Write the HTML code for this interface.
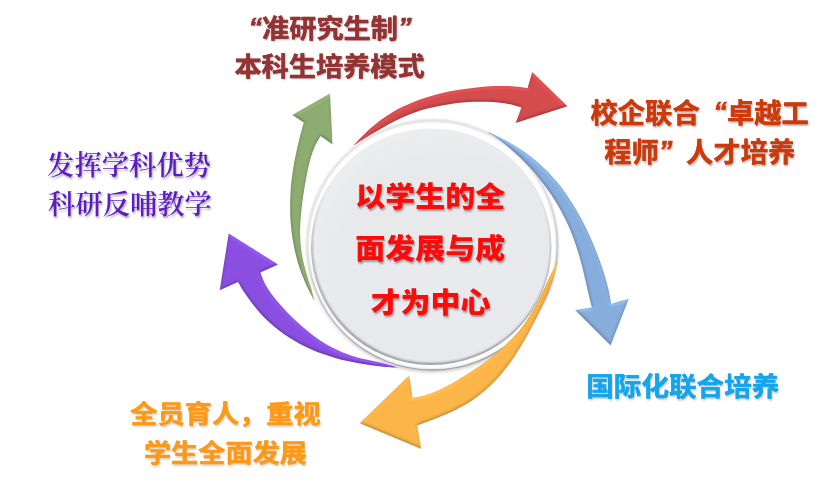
<!DOCTYPE html>
<html lang="zh-CN">
<head>
<meta charset="utf-8">
<title>以学生的全面发展与成才为中心</title>
<style>
html,body{margin:0;padding:0;background:#fff;}
body{width:824px;height:482px;position:relative;overflow:hidden;font-family:"Liberation Sans","Noto Sans CJK SC",sans-serif;}
#art{position:absolute;left:0;top:0;width:824px;height:482px;filter:blur(.45px);}
.t{filter:blur(.4px);position:absolute;white-space:nowrap;text-align:center;font-weight:700;line-height:1;transform:translateX(-50%) scaleY(.93);}
.c1{color:#943333;-webkit-text-stroke:.35px #943333;font-size:27.2px;transform:translateX(-50%) scaleY(.97);text-shadow:0 0 .7px #943333,1px 1.5px 2px rgba(70,50,50,.33);}
.c2{color:#cc3a0c;-webkit-text-stroke:.35px #cc3a0c;font-size:27.3px;transform:translateX(-50%);text-shadow:0 0 .7px #cc3a0c,1px 1.5px 2px rgba(70,50,50,.33);}
.c3{color:#5c1cc2;font-size:27.3px;font-family:"Liberation Serif","Noto Serif CJK SC",serif;font-weight:600;text-shadow:1px 1.5px 2px rgba(60,50,70,.4);transform:translateX(-50%);}
.c4{color:#14a5eb;-webkit-text-stroke:.35px #14a5eb;font-size:27.6px;text-shadow:0 0 .7px #14a5eb,1px 1.5px 2px rgba(40,60,80,.26);}
.c5{color:#fb9a1a;-webkit-text-stroke:.35px #fb9a1a;font-size:27.2px;text-shadow:0 0 .7px #fb9a1a,1px 1.5px 2px rgba(90,70,40,.24);}
.c6{color:#ff0a0a;font-size:30px;font-weight:900;text-shadow:1px 1.5px 2px rgba(70,50,50,.45);}
.q{display:inline-block;width:1em;font-style:italic;position:relative;top:-2px;}
.ql{text-align:right;}
.qr{text-align:left;}
</style>
</head>
<body>
<svg id="art" width="824" height="482" viewBox="0 0 824 482">
<defs>
<radialGradient id="disc" cx="56%" cy="58%" r="66%">
<stop offset="0" stop-color="#e9eaec"/><stop offset=".7" stop-color="#e8e9ec"/><stop offset="1" stop-color="#f0f0f2"/>
</radialGradient>
<linearGradient id="rimg" x1="0.3" y1="0" x2="0.5" y2="1"><stop offset="0" stop-color="#c4c4c7" stop-opacity="0"/><stop offset=".4" stop-color="#c4c4c7" stop-opacity="0"/><stop offset=".65" stop-color="#b8b8bb" stop-opacity=".8"/><stop offset="1" stop-color="#a0a0a4"/></linearGradient>
<linearGradient id="edge" x1="0" y1="0" x2="0" y2="1"><stop offset="0" stop-color="#b4b4b9" stop-opacity="0"/><stop offset=".22" stop-color="#b4b4b9" stop-opacity="0"/><stop offset=".5" stop-color="#a6a6ab" stop-opacity=".9"/><stop offset="1" stop-color="#88888d"/></linearGradient>
<filter id="cs" x="-10%" y="-10%" width="120%" height="125%"><feGaussianBlur stdDeviation="1.6"/></filter>
<filter id="soft" x="-10%" y="-10%" width="120%" height="120%"><feGaussianBlur stdDeviation="0.8"/></filter>
<filter id="soft2" x="-10%" y="-10%" width="120%" height="120%"><feGaussianBlur stdDeviation="0.6"/></filter>
<filter id="bev" x="-5%" y="-5%" width="110%" height="110%" color-interpolation-filters="sRGB">
<feGaussianBlur in="SourceAlpha" stdDeviation="1.8" result="a"/>
<feDiffuseLighting in="a" surfaceScale="2.2" diffuseConstant="0.87" lighting-color="#fff" result="d"><feDistantLight azimuth="282" elevation="60"/></feDiffuseLighting>
<feComponentTransfer in="d" result="d2"><feFuncR type="table" tableValues="0.56 0.62 0.685 0.749 0.9"/><feFuncG type="table" tableValues="0.56 0.62 0.685 0.749 0.9"/><feFuncB type="table" tableValues="0.56 0.62 0.685 0.749 0.9"/></feComponentTransfer>
<feMorphology in="SourceGraphic" operator="dilate" radius="1" result="fat"/>
<feComposite in="fat" in2="d2" operator="arithmetic" k1="1.333" k2="0" k3="0" k4="0" result="lit"/>
<feComposite in="lit" in2="SourceAlpha" operator="in"/>
</filter>
<clipPath id="discclip"><ellipse cx="431.2" cy="246.8" rx="120.2" ry="118.3"/></clipPath>
</defs>
<g filter="url(#bev)">
<path fill="#8dac71" d="M314.5,301.0 C313.5,299.2 310.5,293.9 308.7,290.2 C306.9,286.6 305.2,282.8 303.7,279.0 C302.1,275.2 300.7,271.4 299.4,267.5 C298.2,263.6 297.0,259.6 296.0,255.7 C295.0,251.7 294.1,247.7 293.4,243.7 C292.7,239.7 292.0,235.6 291.5,231.5 C291.1,227.5 290.7,223.4 290.4,219.3 C290.2,215.2 290.1,211.2 290.1,207.1 C290.1,203.0 290.2,198.9 290.4,194.8 C290.6,190.7 290.9,186.6 291.3,182.6 C291.8,178.5 292.3,174.4 292.9,170.4 C293.5,166.3 294.2,162.3 295.0,158.3 C295.8,154.2 296.7,150.2 297.6,146.2 C298.5,142.3 299.5,138.3 300.5,134.3 C301.6,130.4 303.2,124.5 303.8,122.5 L292.3,115.0 L330.0,93.5 L332.5,144.4 L320.6,136.0 C319.7,137.7 316.5,142.8 314.9,146.2 C313.3,149.7 312.2,153.2 311.1,156.8 C310.0,160.3 309.2,163.9 308.3,167.6 C307.5,171.2 306.8,174.9 306.1,178.6 C305.4,182.3 304.8,186.0 304.2,189.8 C303.6,193.5 303.0,197.3 302.5,201.0 C302.0,204.8 301.6,208.6 301.2,212.3 C300.8,216.1 300.5,219.9 300.3,223.6 C300.1,227.4 300.0,231.2 300.1,234.9 C300.2,238.7 300.4,242.4 300.8,246.1 C301.2,249.9 301.7,253.6 302.4,257.3 C303.1,261.0 304.0,264.6 305.0,268.3 C306.0,272.0 307.1,275.6 308.2,279.3 C309.3,282.9 310.6,286.5 311.7,290.1 C312.7,293.8 314.0,299.2 314.5,301.0 Z"/>
<path fill="#d54c4e" d="M353.5,145.5 C354.9,143.9 359.1,139.2 362.1,136.2 C365.1,133.2 368.2,130.2 371.4,127.4 C374.6,124.6 378.0,121.9 381.4,119.4 C384.9,116.9 388.4,114.6 392.1,112.4 C395.7,110.2 399.4,108.2 403.2,106.4 C407.0,104.6 410.9,102.9 414.9,101.4 C418.8,99.8 422.8,98.5 426.9,97.2 C430.9,96.0 435.1,94.9 439.2,93.8 C443.3,92.8 447.5,92.0 451.7,91.1 C455.8,90.3 460.1,89.6 464.3,89.0 C468.5,88.4 472.7,87.9 476.9,87.4 C481.1,87.0 485.4,86.6 489.6,86.3 C493.8,86.1 498.0,85.9 502.2,85.9 C506.4,85.9 510.7,86.0 514.9,86.4 C519.1,86.7 525.5,87.8 527.6,88.1 L532.2,71.9 L567.5,106.2 L515.6,123.1 L521.5,107.5 C519.6,107.0 513.8,105.1 509.9,104.3 C506.0,103.5 502.2,103.0 498.2,102.5 C494.3,102.1 490.4,101.9 486.5,101.8 C482.5,101.7 478.6,101.7 474.6,101.8 C470.7,102.0 466.7,102.2 462.7,102.6 C458.8,102.9 454.8,103.3 450.9,103.9 C446.9,104.4 443.0,105.1 439.1,105.9 C435.2,106.7 431.3,107.5 427.5,108.6 C423.7,109.6 419.9,110.7 416.2,112.0 C412.5,113.3 408.8,114.7 405.2,116.2 C401.5,117.8 397.9,119.4 394.4,121.2 C390.9,123.0 387.4,124.9 384.0,126.9 C380.5,128.9 377.1,131.0 373.8,133.1 C370.4,135.2 367.0,137.4 363.7,139.5 C360.3,141.5 355.2,144.5 353.5,145.5 Z"/>
</g>
<!-- rim -->
<ellipse cx="432.5" cy="247" rx="125" ry="125.5" fill="#888" opacity=".4" filter="url(#cs)"/>
<ellipse cx="431" cy="245" rx="126" ry="125.5" fill="#fff"/>
<ellipse cx="432.3" cy="245.3" rx="125" ry="124.7" fill="none" stroke="#d3d3d6" stroke-width="2" filter="url(#soft)"/>
<ellipse cx="432.3" cy="245.3" rx="125" ry="124.7" fill="none" stroke="url(#rimg)" stroke-width="1.3" filter="url(#soft2)"/>
<path fill="#86addc" d="M486.0,131.0 C488.2,132.0 495.0,134.9 499.4,137.1 C503.9,139.3 508.3,141.7 512.6,144.2 C516.9,146.8 521.1,149.5 525.1,152.3 C529.2,155.2 533.1,158.3 536.9,161.5 C540.6,164.7 544.2,168.1 547.7,171.6 C551.1,175.1 554.4,178.8 557.5,182.6 C560.7,186.4 563.7,190.4 566.5,194.4 C569.3,198.5 572.0,202.7 574.6,206.9 C577.1,211.1 579.6,215.5 581.9,219.9 C584.2,224.3 586.4,228.7 588.5,233.2 C590.6,237.7 592.6,242.3 594.5,246.9 C596.4,251.5 598.2,256.1 599.8,260.7 C601.5,265.4 603.1,270.1 604.5,274.8 C606.0,279.5 607.3,284.2 608.4,289.1 C609.5,293.9 610.8,301.3 611.2,303.8 L628.8,298.8 L610.6,345.6 L575.0,310.0 L591.9,307.5 C591.3,305.2 589.6,298.5 588.5,293.9 C587.4,289.3 586.4,284.6 585.3,280.0 C584.2,275.4 583.2,270.7 582.0,266.1 C580.8,261.5 579.6,256.9 578.2,252.4 C576.8,247.9 575.3,243.4 573.7,238.9 C572.1,234.5 570.3,230.1 568.4,225.8 C566.5,221.5 564.4,217.3 562.2,213.2 C560.0,209.0 557.7,204.9 555.2,200.9 C552.7,196.9 550.1,193.0 547.3,189.2 C544.6,185.3 541.7,181.6 538.7,177.9 C535.7,174.2 532.6,170.6 529.4,167.1 C526.2,163.7 522.9,160.2 519.5,157.0 C516.1,153.7 512.6,150.5 509.0,147.5 C505.3,144.4 501.6,141.5 497.8,138.7 C494.0,136.0 488.0,132.3 486.0,131.0 Z" filter="url(#bev)"/>
<path fill="#fbb548" d="M558.1,261.0 C557.4,263.5 555.5,271.1 554.0,275.9 C552.5,280.7 550.7,285.4 548.9,290.0 C547.0,294.6 545.1,299.2 543.0,303.7 C541.0,308.3 538.9,312.8 536.6,317.4 C534.4,321.9 532.1,326.4 529.7,330.9 C527.3,335.4 524.8,339.8 522.2,344.2 C519.6,348.6 516.9,353.0 514.0,357.2 C511.2,361.4 508.2,365.6 505.0,369.5 C501.9,373.5 498.6,377.4 495.1,381.0 C491.7,384.6 488.0,388.1 484.2,391.3 C480.4,394.6 476.4,397.6 472.2,400.4 C468.0,403.2 463.7,405.7 459.2,408.1 C454.8,410.5 450.2,412.6 445.5,414.6 C440.8,416.7 436.0,418.4 431.3,420.3 C426.6,422.1 419.6,424.7 417.2,425.6 L421.3,449.0 L359.7,423.2 L409.3,375.3 L412.5,397.6 C414.7,397.2 421.6,396.2 426.0,394.9 C430.4,393.6 434.6,391.9 438.9,390.0 C443.1,388.1 447.2,386.0 451.3,383.7 C455.4,381.5 459.4,379.1 463.4,376.6 C467.4,374.2 471.4,371.6 475.2,369.0 C479.1,366.3 482.9,363.6 486.6,360.9 C490.4,358.1 494.0,355.2 497.5,352.3 C501.0,349.3 504.4,346.3 507.6,343.1 C510.9,339.9 514.0,336.6 517.0,333.2 C519.9,329.7 522.7,326.2 525.3,322.4 C528.0,318.7 530.5,314.8 532.8,310.8 C535.2,306.8 537.3,302.6 539.5,298.4 C541.6,294.2 543.6,289.8 545.6,285.6 C547.6,281.3 549.5,276.9 551.6,272.8 C553.7,268.7 557.0,263.0 558.1,261.0 Z" filter="url(#bev)"/>
<path fill="#8a4fe0" d="M398.0,367.5 C396.2,366.9 390.9,365.2 387.1,364.2 C383.4,363.2 379.5,362.5 375.6,361.6 C371.7,360.8 367.8,360.0 363.9,359.0 C360.1,358.1 356.3,357.1 352.5,355.9 C348.8,354.7 345.2,353.4 341.6,352.0 C338.0,350.5 334.6,348.8 331.2,347.1 C327.8,345.3 324.5,343.3 321.3,341.2 C318.1,339.1 314.9,336.8 311.9,334.5 C308.8,332.1 305.8,329.7 302.8,327.1 C299.9,324.6 297.0,321.9 294.2,319.2 C291.4,316.5 288.6,313.7 285.9,310.9 C283.2,308.1 280.6,305.2 278.1,302.3 C275.6,299.3 273.1,296.4 270.9,293.2 C268.7,290.1 266.6,286.9 264.8,283.5 C263.1,280.0 261.1,274.4 260.4,272.6 L278.1,264.6 L228.7,233.4 L219.7,290.3 L238.0,281.9 C239.1,283.7 242.1,289.0 244.4,292.6 C246.7,296.1 249.2,299.6 251.8,303.0 C254.4,306.4 257.1,309.7 260.0,312.9 C262.9,316.1 265.9,319.1 269.0,322.0 C272.1,324.9 275.4,327.7 278.7,330.3 C282.1,332.9 285.5,335.3 289.1,337.6 C292.6,339.8 296.3,341.9 300.0,343.9 C303.7,345.9 307.5,347.7 311.4,349.4 C315.2,351.0 319.2,352.6 323.2,354.0 C327.1,355.4 331.2,356.7 335.3,357.9 C339.3,359.0 343.5,360.1 347.6,361.1 C351.8,362.0 356.0,362.9 360.2,363.6 C364.3,364.4 368.6,365.1 372.8,365.6 C377.0,366.2 381.2,366.6 385.4,366.9 C389.6,367.2 395.9,367.4 398.0,367.5 Z" filter="url(#bev)"/>
<!-- disc -->
<ellipse cx="431.2" cy="246.8" rx="120.2" ry="118.3" fill="url(#disc)"/>
<g clip-path="url(#discclip)">
<ellipse cx="431.7" cy="246" rx="120.3" ry="118.4" fill="none" stroke="url(#edge)" stroke-width="2.6" filter="url(#soft)"/>
</g>
</svg>

<div class="t c1" style="left:330px;top:15.2px;"><span class="q ql">“</span>准研究生制<span class="q qr">”</span></div>
<div class="t c1" style="left:329.6px;top:53.2px;">本科生培养模式</div>

<div class="t c2" style="left:699.7px;top:99.5px;">校企联合<span class="q ql">“</span>卓越工</div>
<div class="t c2" style="left:699.7px;top:138.8px;">程师<span class="q qr">”</span>人才培养</div>

<div class="t c3" style="left:129px;top:152.6px;">发挥学科优势</div>
<div class="t c3" style="left:130px;top:192px;">科研反哺教学</div>

<div class="t c4" style="left:682.8px;top:373.9px;">国际化联合培养</div>

<div class="t c5" style="left:225.5px;top:400.8px;">全员育人，重视</div>
<div class="t c5" style="left:225.5px;top:439.6px;">学生全面发展</div>

<div class="t c6" style="left:430.3px;top:182.6px;">以学生的全</div>
<div class="t c6" style="left:430.3px;top:234.7px;">面发展与成</div>
<div class="t c6" style="left:430.6px;top:288.7px;">才为中心</div>
</body>
</html>
